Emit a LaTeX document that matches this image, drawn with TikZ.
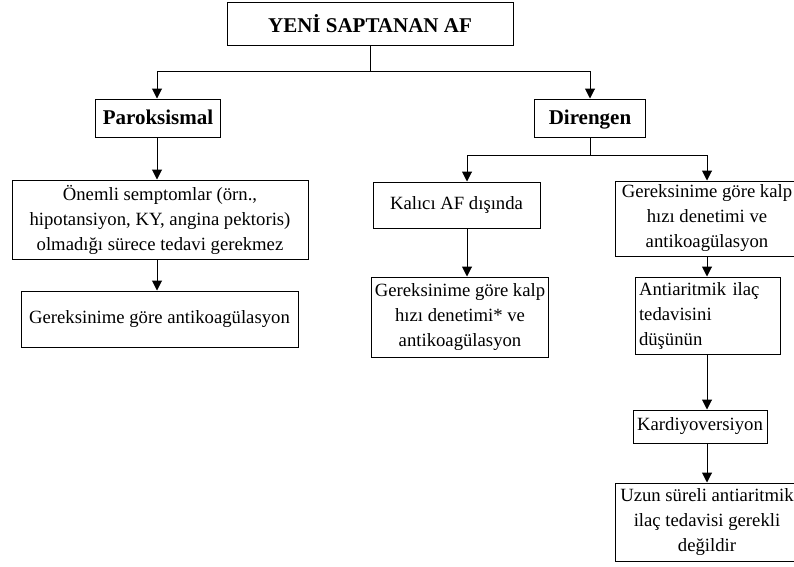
\documentclass[tikz,border=0pt]{standalone}
\usepackage{fontspec}
\setmainfont{Liberation Serif}
\usetikzlibrary{arrows.meta}
\tikzset{
  box/.style={draw,line width=1pt,align=center,inner sep=3pt,font=\fontsize{18.7}{25}\selectfont},
  boldbox/.style={box,font=\fontsize{21}{25}\selectfont\bfseries},
  ln/.style={line width=1pt},
  arr/.style={line width=1pt,-{Triangle[width=10pt,length=10pt]}}
}
\begin{document}
\begin{tikzpicture}[x=1pt,y=-1pt]
        \clip (0,0) rectangle (794,566);
        \fill [white] (0,0) rectangle (794,566);
        \node [boldbox,minimum width=286pt,minimum height=43pt] (yeni) at(370,23.5) {YENİ SAPTANAN AF};
        \node [boldbox,text depth=.22em,minimum width=125pt,minimum height=38pt] (parox) at(158,118) {Paroksismal};
        \node [boldbox,text depth=.22em,minimum width=111pt,minimum height=38pt] (dir) at(590,118) {Direngen};
        \node [box,minimum width=296pt,minimum height=79pt] (onemli) at(160,219.5) {Önemli semptomlar (örn.,\\hipotansiyon, KY, angina pektoris)\\olmadığı sürece tedavi gerekmez};
        \node [box,minimum width=277pt,minimum height=56pt] (antikoag) at(159.5,319) {Gereksinime göre antikoagülasyon};
        \node [box,minimum width=167pt,minimum height=46pt] (kalici) at(456.5,205) {Kalıcı AF dışında};
        \node [box,minimum width=168pt,minimum height=80pt] (kalphiz) at(460,317) {Gereksinime göre kalp\\hızı denetimi* ve\\antikoagülasyon};
        \node [box,minimum width=184pt,minimum height=75pt] (hizdenetim) at(707,218.5) {Gereksinime göre kalp\\hızı denetimi ve\\antikoagülasyon};
        \node [box,align=left,text width=137pt,inner sep=4pt,minimum height=77pt] (antiar) at(707.5,315.5) {Antiaritmik ilaç\\tedavisini\\düşünün};
        \node [box,minimum width=134pt,minimum height=33pt] (kardio) at(700,426.5) {Kardiyoversiyon};
        \node [box,minimum width=184pt,minimum height=78pt] (uzun) at(707,522) {Uzun süreli antiaritmik\\ilaç tedavisi gerekli\\değildir};

        \draw [ln] (yeni.south)--++(0,26) coordinate (ysplit);
        \draw [arr] (ysplit)-|([xshift=-1pt]parox.north);
        \draw [arr] (ysplit)-|(dir.north);
        \draw [arr] ([xshift=-1pt]parox.south)--([xshift=-3pt]onemli.north);
        \draw [arr] ([xshift=-3pt]onemli.south)--([xshift=-2.5pt]antikoag.north);
        \draw [ln] (dir.south)--++(0,18) coordinate (dsplit);
        \draw [arr] (dsplit)-|([xshift=10.5pt]kalici.north);
        \draw [arr] (dsplit)-|(hizdenetim.north);
        \draw [arr] ([xshift=10.5pt]kalici.south)--([xshift=7pt]kalphiz.north);
        \draw [arr] (hizdenetim.south)--([xshift=-0.5pt]antiar.north);
        \draw [arr] ([xshift=-0.5pt]antiar.south)--([xshift=7pt]kardio.north);
        \draw [arr] ([xshift=7pt]kardio.south)--(uzun.north);
    \end{tikzpicture}
\end{document}
